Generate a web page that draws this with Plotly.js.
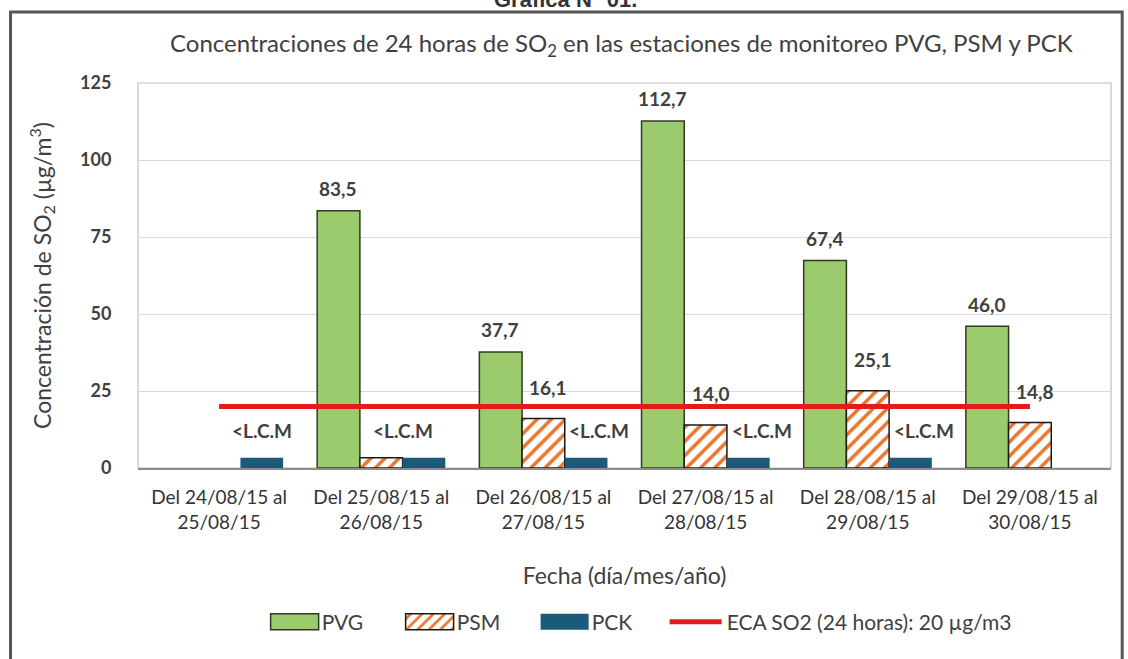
<!DOCTYPE html>
<html>
<head>
<meta charset="utf-8">
<script src="https://cdn.plot.ly/plotly-3.0.1.min.js"></script>
<style>html,body{margin:0;padding:0;background:#fff;}#chart{width:1128px;height:659px;}</style>
</head>
<body>
<div id="chart"></div>
<script>
// ---- data ----
const categories = [
  "Del 24/08/15 al<br>25/08/15",
  "Del 25/08/15 al<br>26/08/15",
  "Del 26/08/15 al<br>27/08/15",
  "Del 27/08/15 al<br>28/08/15",
  "Del 28/08/15 al<br>29/08/15",
  "Del 29/08/15 al<br>30/08/15"
];
const pvgValues = [null, 83.5, 37.7, 112.7, 67.4, 46.0];
const psmValues = [null, 3.3, 16.1, 14.0, 25.1, 14.8];
const pckValues = [3.3, 3.3, 3.3, 3.3, 3.3, null];
const ecaValues = [20, 20, 20, 20, 20, 20];
const pvgLabels = ["", "83,5", "37,7", "112,7", "67,4", "46,0"];
const psmLabels = ["", "", "16,1", "14,0", "25,1", "14,8"];
const pckLabels = ["<L.C.M", "<L.C.M", "<L.C.M", "<L.C.M", "<L.C.M", ""];
const yTicks = [0, 25, 50, 75, 100, 125];

const FONT = "Lato, 'Open Sans', sans-serif";
const TXT = "#404040";

const traces = [
  {type: "bar", name: "PVG", x: categories, y: pvgValues,
   marker: {color: "#9BCB6D", line: {color: "#2E3B20", width: 1.5}}},
  {type: "bar", name: "PSM", x: categories, y: psmValues,
   marker: {color: "#ffffff", line: {color: "#1a1a1a", width: 1.5},
            pattern: {shape: "/", fgcolor: "#E8782E", bgcolor: "#ffffff", size: 10, solidity: 0.35}}},
  {type: "bar", name: "PCK", x: categories, y: pckValues,
   marker: {color: "#1B5A79", line: {color: "#1B5A79", width: 0}}},
  {type: "scatter", mode: "lines", name: "ECA SO2 (24 horas): 20 µg/m3", x: categories, y: ecaValues,
   line: {color: "#E31B1B", width: 5}}
];

const annotations = [];
const lblFont = {family: FONT, size: 19, color: TXT, weight: 700};
function addLabel(cat, y, text, xshift, yshift) {
  annotations.push({x: cat, y: y, xref: "x", yref: "y", text: text,
    showarrow: false, xshift: xshift, yshift: yshift, font: lblFont});
}
pvgValues.forEach((v, i) => { if (pvgLabels[i]) addLabel(categories[i], v, pvgLabels[i], -43, 22); });
psmValues.forEach((v, i) => { if (psmLabels[i]) addLabel(categories[i], v, psmLabels[i], 5, 31); });
pckValues.forEach((v, i) => {
  if (!pckLabels[i]) return;
  // first label centred over its bar, second one left of its bar, others just right of it
  const xs = i === 0 ? 43 : (i === 1 ? 22 : 56);
  addLabel(categories[i], v, pckLabels[i], xs, 27);
});

annotations.push({xref: "paper", yref: "paper", x: 0.439, y: 1.178, xanchor: "center", yanchor: "bottom",
  text: "Gráfica N° 01.", showarrow: false, font: {family: "Liberation Sans, Arial, sans-serif", size: 22, color: "#333", weight: 700}});
annotations.push({xref: "paper", yref: "paper", x: 0.497, y: 1.10, xanchor: "center", yanchor: "middle",
  text: "Concentraciones de 24 horas de SO<sub>2</sub> en las estaciones de monitoreo PVG, PSM y PCK",
  showarrow: false, font: {family: FONT, size: 24, color: TXT}});

const layout = {
  width: 1128, height: 659,
  margin: {l: 138, r: 17, t: 83, b: 191},
  paper_bgcolor: "#ffffff", plot_bgcolor: "#ffffff",
  barmode: "group", bargap: 0.21, bargroupgap: 0,
  showlegend: true,
  legend: {orientation: "h", x: 0.125, xanchor: "left", y: -0.40, yanchor: "middle",
    font: {family: FONT, size: 21, color: TXT}, traceorder: "normal", itemwidth: 52,
    entrywidth: 68, entrywidthmode: "pixels"},
  xaxis: {type: "category", tickfont: {family: FONT, size: 19, color: "#333"},
    showline: true, linecolor: "#8c8c8c", linewidth: 1.5, ticks: "", showgrid: false,
    ticklabelstandoff: 12,
    title: {text: "Fecha (día/mes/año)", font: {family: FONT, size: 23, color: TXT}, standoff: 36},
    automargin: false},
  yaxis: {range: [0, 125], tickvals: yTicks, ticktext: yTicks.map(String),
    tickfont: {family: FONT, size: 18, color: TXT, weight: 700}, ticklen: 0, ticks: "outside", tickcolor: "#fff",
    ticklabelstandoff: 22,
    showgrid: true, gridcolor: "#d9d9d9", gridwidth: 1, zeroline: false, showline: false,
    title: {text: "Concentración de SO<sub>2</sub> (µg/m<sup>3</sup>)", font: {family: FONT, size: 23, color: TXT}, standoff: 22},
    automargin: false},
  annotations: annotations,
  shapes: [
    {type: "rect", xref: "paper", yref: "paper", x0: 0, x1: 1, y0: 0, y1: 1,
     line: {color: "#bfbfbf", width: 1.2}, layer: "below"},
    {type: "rect", xref: "paper", yref: "paper", x0: -0.1310, x1: 1.0115, y0: -0.60, y1: 1.1844,
     line: {color: "#555555", width: 3}}
  ]
};

Plotly.newPlot("chart", traces, layout, {displayModeBar: false, staticPlot: true}).then(gd => {
  // widen bar legend swatches to look like the reference's rectangles
  const items = gd.querySelectorAll(".legend .traces");
  items.forEach((g, k) => {
    if (k > 2) return;
    g.querySelectorAll(".legendpoints path").forEach(p => {
      p.setAttribute("d", "M28,8H-20V-8H28Z");
    });
  });
  // let the long last legend entry show in full
  gd.querySelectorAll(".legend [clip-path]").forEach(e => e.removeAttribute("clip-path"));
});
</script>
</body>
</html>
